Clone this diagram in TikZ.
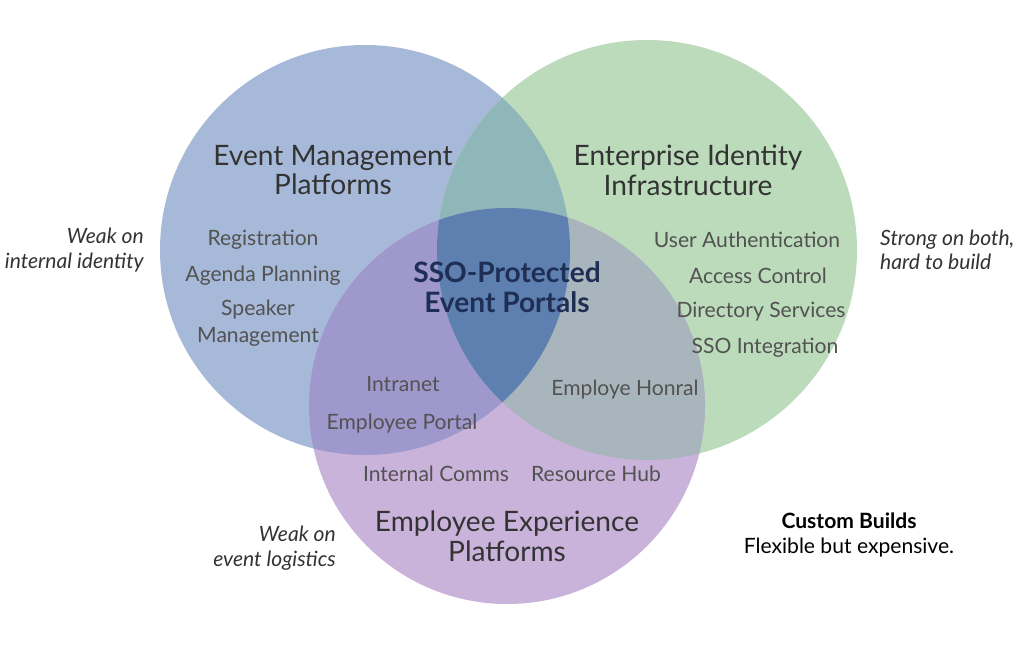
\documentclass[tikz,border=0pt]{standalone}
\usepackage{fontspec}
\setmainfont{Lato}
\usetikzlibrary{positioning}
\definecolor{eventc}{HTML}{A7B9D8}
\definecolor{identc}{HTML}{BBDBBB}
\definecolor{empc}{HTML}{CAB3DA}
\definecolor{evidc}{HTML}{8FB6B9}
\definecolor{evempc}{HTML}{9F98CD}
\definecolor{idempc}{HTML}{A9B5BC}
\definecolor{allc}{HTML}{5E80B0}
\definecolor{textc}{HTML}{333333}
\definecolor{corec}{HTML}{1F2E55}
\def\eventpath{(365,250) circle (205)}
\def\identpath{(647,250) circle (210)}
\def\emppath{(507,406) circle (198)}

\begin{document}
\begin{tikzpicture}[x=0.02cm,y=-0.02cm,
  set/.style={shape=circle,inner sep=0pt,draw=none},
  title/.style={align=center,font=\fontsize{16}{18}\selectfont,text=textc},
  item/.style={align=center,font=\fontsize{12}{14}\selectfont,text=textc!85},
  note/.style={font=\fontsize{12}{14}\selectfont\itshape,text=textc}]
\useasboundingbox (0,0) rectangle (1024,646);
\fill[white] (0,0) rectangle (1024,646);

\node[set,fill=eventc,minimum size=410*0.02cm] (event) at (365,250) {};
\node[set,fill=identc,minimum size=420*0.02cm] (ident) at (647,250) {};
\node[set,fill=empc,minimum size=396*0.02cm] (emp) at (507,406) {};
% overlaps
\begin{scope}\clip \eventpath; \fill[evidc] \identpath; \end{scope}
\begin{scope}\clip \eventpath; \fill[evempc] \emppath; \end{scope}
\begin{scope}\clip \identpath; \fill[idempc] \emppath; \end{scope}
\begin{scope}\clip \eventpath; \clip \identpath; \fill[allc] \emppath; \end{scope}

\node[title] (eventt) at (333,170) {Event Management\\[-1pt]Platforms};
\node[title] (identt) at (688,170) {Enterprise Identity\\[-1pt]Infrastructure};
\node[title] (empt) at (507,536) {Employee Experience\\[-1pt]Platforms};
\node[title,font=\fontsize{16}{18}\selectfont\bfseries,text=corec] (core) at (507,287) {SSO-Protected\\[-1pt]Event Portals};

\node[item] (reg) at (263,240) {Registration};
\node[item] (agenda) at (263,276) {Agenda Planning};
\node[item] (speaker) at (258,323) {Speaker\\[1pt]Management};
\node[item] (auth) at (747,240) {User Authentication};
\node[item] (access) at (758,276) {Access Control};
\node[item] (dir) at (761,312) {Directory Services};
\node[item] (sso) at (765,348) {SSO Integration};
\node[item] (intranet) at (403,384) {Intranet};
\node[item] (portal) at (402,424) {Employee Portal};
\node[item] (honral) at (625,390) {Employe Honral};
\node[item] (comms) at (436,474) {Internal Comms};
\node[item] (hub) at (596,474) {Resource Hub};

\node[note,align=right,anchor=east] (weakid) at (150,250) {Weak on\\internal identity};
\node[note,align=left,anchor=west] (strong) at (874,250) {Strong on both,\\hard to build};
\node[note,align=right,anchor=east] (weakev) at (342,548) {Weak on\\event logistics};
\node[align=center,font=\fontsize{12}{14}\selectfont,text=black] (custom) at (849,535) {\textbf{Custom Builds}\\Flexible but expensive.};
\end{tikzpicture}
\end{document}
